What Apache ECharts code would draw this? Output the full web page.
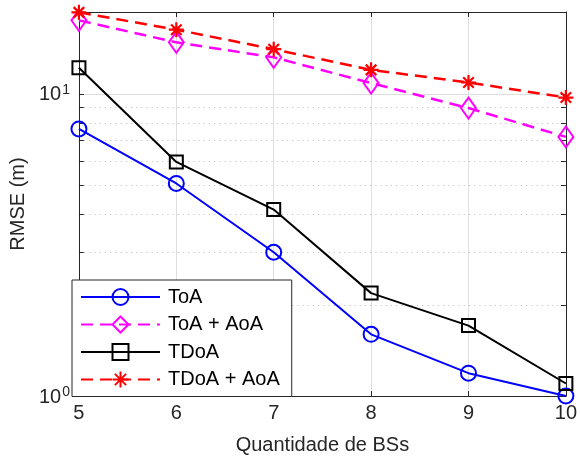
<!DOCTYPE html>
<html>
<head>
<meta charset="utf-8">
<script src="https://cdn.jsdelivr.net/npm/echarts@6/dist/echarts.min.js"></script>
<style>
  html, body { margin: 0; padding: 0; background: #fff; }
  #chart { width: 580px; height: 460px; }
</style>
</head>
<body>
<div id="chart"></div>
<script>
// Number of base stations (x) and RMSE in metres for each method
const bsCount   = [5, 6, 7, 8, 9, 10];
const toa       = [7.65, 5.05, 2.99, 1.60, 1.19, 1.00];
const toaAoa    = [17.5, 14.8, 13.2, 10.85, 8.97, 7.2];
const tdoa      = [12.2, 5.95, 4.14, 2.19, 1.71, 1.10];
const tdoaAoa   = [18.6, 16.3, 14.05, 12.0, 10.9, 9.72];
const seriesNames = ['ToA', 'ToA + AoA', 'TDoA', 'TDoA + AoA'];

// Axis ranges and the in-between decade values used for dotted grid lines
const xRange = [5, 10];
const yRange = [1, 18.65];
const minorGridValues = [2, 3, 4, 5, 6, 7, 8, 9];

const FONT = '"Liberation Sans", Arial, Helvetica, sans-serif';
const TXT = '#262626';
const AX = '#262626';

const pair = (ys) => bsCount.map((x, i) => [x, ys[i]]);

// Dotted minor grid lines plus short inward minor ticks on left and right edges
const tickLen = 0.05;
const minorLines = [];
minorGridValues.forEach(v => {
  minorLines.push({ yAxis: v, lineStyle: { color: '#c4c4c4', width: 1, type: [1.2, 4] } });
});
minorGridValues.forEach(v => {
  minorLines.push([{ coord: [xRange[0], v], lineStyle: { color: AX, width: 1, type: 'solid' } },
                   { coord: [xRange[0] + tickLen, v] }]);
  minorLines.push([{ coord: [xRange[1] - tickLen, v], lineStyle: { color: AX, width: 1, type: 'solid' } },
                   { coord: [xRange[1], v] }]);
});

const asterisk = 'path://M10,0L10,20M0,10L20,10M3,3L17,17M3,17L17,3';

const supLabel = (v) => {
  const e = Math.log10(v);
  if (Math.abs(e - Math.round(e)) > 1e-6) return '';
  return '{b|10}{s|' + Math.round(e) + '}';
};

const chart = echarts.init(document.getElementById('chart'), null, { renderer: 'canvas' });

chart.setOption({
  animation: false,
  backgroundColor: '#ffffff',
  textStyle: { fontFamily: FONT },
  grid: { left: 72, right: 10, top: 12, bottom: 63, containLabel: false },
  legend: {
    orient: 'vertical',
    left: 72,
    top: 280,
    data: seriesNames,
    backgroundColor: '#ffffff',
    borderColor: AX,
    borderWidth: 1,
    borderRadius: 0,
    padding: [7, 12, 7, 8],
    itemWidth: 79,
    itemHeight: 20,
    itemGap: 7.5,
    textStyle: { fontFamily: FONT, fontSize: 20, color: '#000', padding: [0, 0, 0, 3] },
    z: 10
  },
  xAxis: [{
    type: 'value',
    min: xRange[0], max: xRange[1], interval: 1,
    name: 'Quantidade de BSs',
    nameLocation: 'middle',
    nameGap: 39,
    nameTextStyle: { fontFamily: FONT, fontSize: 20, color: TXT },
    axisLine: { show: true, lineStyle: { color: AX, width: 1 } },
    axisTick: { show: true, inside: true, length: 5, lineStyle: { color: AX } },
    axisLabel: { fontFamily: FONT, fontSize: 20, color: TXT, margin: 7 },
    splitLine: { show: true, lineStyle: { color: '#dedede', width: 1 } }
  }, {
    type: 'value', position: 'top',
    min: xRange[0], max: xRange[1], interval: 1,
    axisLine: { show: true, lineStyle: { color: AX, width: 1 } },
    axisTick: { show: true, inside: true, length: 5, lineStyle: { color: AX } },
    axisLabel: { show: false },
    splitLine: { show: false }
  }],
  yAxis: [{
    type: 'log', logBase: 10,
    min: yRange[0], max: yRange[1], interval: 1,
    name: 'RMSE (m)',
    nameLocation: 'middle',
    nameGap: 35,
    nameRotate: 90,
    nameTextStyle: { fontFamily: FONT, fontSize: 20, color: TXT },
    axisLine: { show: true, lineStyle: { color: AX, width: 1 } },
    axisTick: { show: true, inside: true, length: 5, lineStyle: { color: AX } },
    axisLabel: {
      showMaxLabel: false,
      margin: 9,
      formatter: supLabel,
      rich: {
        b: { fontFamily: FONT, fontSize: 20, color: TXT, lineHeight: 22, verticalAlign: 'bottom' },
        s: { fontFamily: FONT, fontSize: 14, color: TXT, lineHeight: 22, verticalAlign: 'top', padding: [0, 0, 8, 1] }
      }
    },
    splitLine: { show: true, lineStyle: { color: '#dedede', width: 1 } }
  }, {
    type: 'log', logBase: 10, position: 'right',
    min: yRange[0], max: yRange[1], interval: 1,
    axisLine: { show: true, lineStyle: { color: AX, width: 1 } },
    axisTick: { show: true, inside: true, length: 5, lineStyle: { color: AX } },
    axisLabel: { show: false },
    splitLine: { show: false }
  }],
  series: [{
    name: seriesNames[0],
    type: 'line',
    data: pair(toa),
    z: 3,
    symbol: 'circle',
    symbolSize: 15,
    showAllSymbol: true,
    lineStyle: { color: '#0000ff', width: 2 },
    itemStyle: { color: 'rgba(0,0,0,0)', borderColor: '#0000ff', borderWidth: 2 },
    markLine: {
      silent: true,
      symbol: 'none',
      z: 1,
      label: { show: false },
      emphasis: { disabled: true },
      data: minorLines
    }
  }, {
    name: seriesNames[1],
    type: 'line',
    data: pair(toaAoa),
    z: 4,
    symbol: 'diamond',
    symbolSize: [15, 21],
    lineStyle: { color: '#ff00ff', width: 2.5, type: [12, 7] },
    itemStyle: { color: 'rgba(0,0,0,0)', borderColor: '#ff00ff', borderWidth: 2 }
  }, {
    name: seriesNames[2],
    type: 'line',
    data: pair(tdoa),
    z: 5,
    symbol: 'rect',
    symbolSize: 13,
    lineStyle: { color: '#000000', width: 2 },
    itemStyle: { color: 'rgba(0,0,0,0)', borderColor: '#000000', borderWidth: 2 }
  }, {
    name: seriesNames[3],
    type: 'line',
    data: pair(tdoaAoa),
    z: 6,
    symbol: asterisk,
    symbolSize: 15,
    lineStyle: { color: '#ff0000', width: 2.5, type: [12, 7] },
    itemStyle: { color: 'rgba(0,0,0,0)', borderColor: '#ff0000', borderWidth: 2.2 }
  }]
});
</script>
</body>
</html>
